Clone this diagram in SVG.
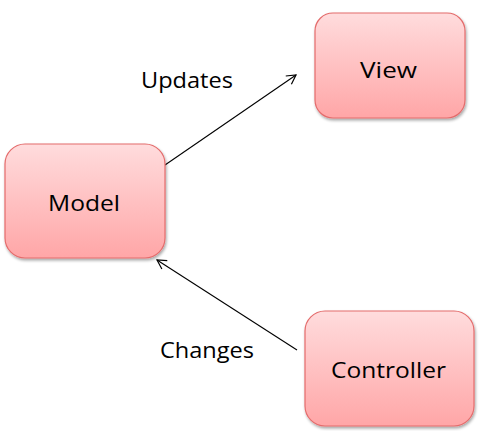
<svg xmlns="http://www.w3.org/2000/svg" width="480" height="431" viewBox="0 0 480 431">
<defs>
<linearGradient id="g" x1="0" y1="0" x2="0" y2="1">
<stop offset="0" stop-color="#ffdcdd"/>
<stop offset="1" stop-color="#ffa6a7"/>
</linearGradient>
<filter id="sh" x="-10%" y="-10%" width="130%" height="130%">
<feGaussianBlur in="SourceAlpha" stdDeviation="1.5"/>
<feOffset dx="1" dy="2" result="b"/>
<feComponentTransfer><feFuncA type="linear" slope="0.35"/></feComponentTransfer>
<feMerge><feMergeNode/><feMergeNode in="SourceGraphic"/></feMerge>
</filter>
<marker id="arr" markerWidth="12" markerHeight="12" refX="10" refY="6" orient="auto" markerUnits="userSpaceOnUse">
<path d="M1,1 L10,6 L1,11" fill="none" stroke="#000" stroke-width="1.2"/>
</marker>
</defs>
<style>
.box{fill:url(#g);stroke:#e46c6c;stroke-width:1.2;filter:url(#sh)}
.t{font-family:"Open Sans","Liberation Sans",sans-serif;font-size:22px;fill:#000}
.c{stroke:#000;stroke-width:1.1;fill:none;marker-end:url(#arr)}
</style>
<rect width="480" height="431" fill="#fff"/>
<g id="connectors">
<line class="c" x1="165" y1="165" x2="296" y2="75"/>
<line class="c" x1="297" y1="350" x2="157" y2="260"/>
<text class="t" x="141" y="88" textLength="92" lengthAdjust="spacingAndGlyphs">Updates</text>
<text class="t" x="160" y="358" textLength="94" lengthAdjust="spacingAndGlyphs">Changes</text>
</g>
<g id="model">
<rect class="box" x="5" y="144" width="160" height="114" rx="20"/>
<text class="t" x="48" y="211" textLength="72" lengthAdjust="spacingAndGlyphs">Model</text>
</g>
<g id="view">
<rect class="box" x="315" y="13" width="150" height="105" rx="18"/>
<text class="t" x="360" y="78" textLength="57" lengthAdjust="spacingAndGlyphs">View</text>
</g>
<g id="controller">
<rect class="box" x="305" y="311" width="169" height="115" rx="20"/>
<text class="t" x="331" y="378" textLength="115" lengthAdjust="spacingAndGlyphs">Controller</text>
</g>
</svg>
